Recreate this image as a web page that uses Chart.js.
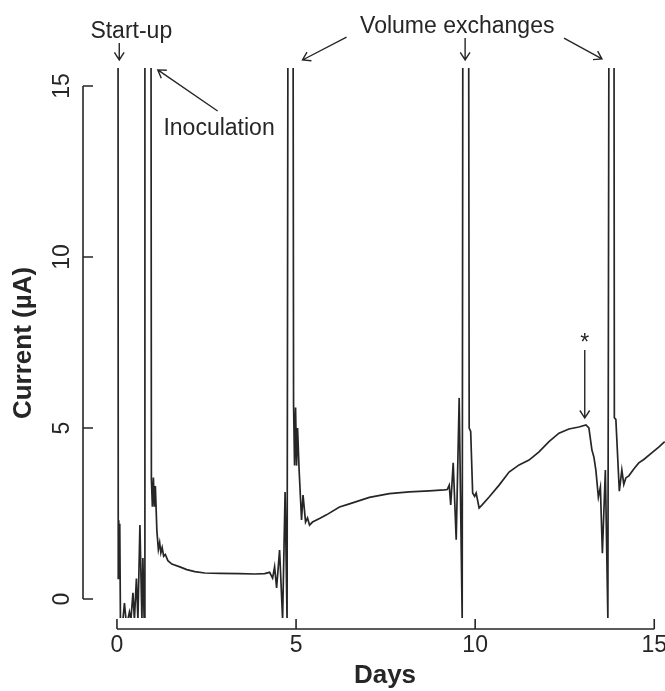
<!DOCTYPE html>
<html>
<head>
<meta charset="utf-8">
<script src="https://cdn.jsdelivr.net/npm/chart.js@4.4.0/dist/chart.umd.min.js"></script>
<style>
  html, body { margin: 0; padding: 0; background: #fff; }
  canvas { display: block; }
</style>
</head>
<body>
<canvas id="chart" width="665" height="691"></canvas>
<script>
// Current (µA) over time (days); 40 = spike that leaves the scale
const days = [
  0.022, 0.036, 0.050, 0.064, 0.078, 0.097, 0.167, 0.209, 0.251, 0.306,
  0.348, 0.390, 0.446, 0.487, 0.543, 0.585, 0.641, 0.696, 0.724, 0.758,
  0.780, 0.933, 0.961, 0.989, 1.017, 1.045, 1.072, 1.114, 1.156, 1.192,
  1.226, 1.262, 1.304, 1.351, 1.421, 1.532, 1.755, 1.950, 2.173, 2.451,
  2.869, 3.426, 3.844, 4.123, 4.262, 4.345, 4.401, 4.457, 4.540, 4.624,
  4.694, 4.749, 4.805, 4.889, 4.930, 4.958, 4.986, 5.014, 5.042, 5.084,
  5.153, 5.195, 5.265, 5.320, 5.376, 5.460, 5.655, 5.850, 6.212, 6.490,
  7.047, 7.604, 8.162, 8.719, 9.136, 9.220, 9.276, 9.318, 9.387, 9.471,
  9.554, 9.638, 9.680, 9.791, 9.833, 9.875, 9.930, 9.986, 10.028, 10.111,
  10.195, 10.390, 10.669, 10.947, 11.226, 11.504, 11.783, 12.061, 12.340, 12.618,
  12.897, 13.092, 13.175, 13.259, 13.315, 13.370, 13.440, 13.496, 13.552, 13.635,
  13.705, 13.774, 13.858, 13.886, 13.928, 14.025, 14.095, 14.150, 14.206, 14.290,
  14.429, 14.568, 14.708, 14.930, 15.125, 15.292
];
const current = [
  40, 0.6, 2.3, 0.7, 2.2, -0.6, -0.6, -0.12, -0.6, -0.6,
  -0.38, -0.6, 0.18, -0.6, 0.6, -0.6, 2.16, -0.6, 1.2, -0.6,
  40, 40, 3.5, 2.7, 3.55, 2.7, 3.3, 2.0, 1.45, 1.65,
  1.35, 1.5, 1.25, 1.3, 1.12, 1.02, 0.94, 0.86, 0.8, 0.76,
  0.75, 0.74, 0.73, 0.74, 0.78, 0.61, 0.94, 0.32, 1.43, -0.6,
  3.13, -0.6, 40, 40, 5.7, 3.9, 5.6, 3.9, 5.0, 3.8,
  2.31, 3.04, 2.25, 2.37, 2.16, 2.25, 2.35, 2.46, 2.69, 2.78,
  2.97, 3.08, 3.13, 3.16, 3.19, 3.2, 3.33, 2.75, 3.98, 1.73,
  5.88, -0.6, 40, 40, 5.0, 4.9, 3.1, 3.0, 3.1, 2.66,
  2.75, 2.98, 3.33, 3.71, 3.92, 4.06, 4.3, 4.6, 4.85, 4.97,
  5.03, 5.09, 5.0, 4.36, 4.15, 3.77, 2.98, 3.27, 1.34, 3.77,
  -0.6, 40, 40, 5.3, 5.25, 3.15, 3.77, 3.35, 3.54, 3.6,
  3.8, 3.98, 4.08, 4.27, 4.44, 4.6
];
const xTicks = [0, 5, 10, 15];
const yTicks = [0, 5, 10, 15];

// Annotations, placed in data units (day, µA)
const notes = [
  { text: 'Start-up', day: 0.40, value: 16.40 },
  { text: 'Inoculation', day: 2.85, value: 13.57 },
  { text: 'Volume exchanges', day: 9.50, value: 16.55 },
  { text: '*', day: 13.06, value: 7.28 }
];
const arrows = [
  [0.064, 16.26, 0.064, 15.76],
  [2.81, 14.27, 1.14, 15.47],
  [6.41, 16.43, 5.18, 15.76],
  [9.72, 16.40, 9.72, 15.76],
  [12.48, 16.40, 13.54, 15.79],
  [13.06, 7.28, 13.06, 5.29]
];

const ink = '#262626';
const family = '"Liberation Sans", Arial, Helvetica, sans-serif';

function drawArrow(ctx, x1, y1, x2, y2) {
  const ang = Math.atan2(y2 - y1, x2 - x1);
  const len = 9, spread = Math.PI / 5.5;
  ctx.beginPath();
  ctx.moveTo(x1, y1);
  ctx.lineTo(x2, y2);
  ctx.moveTo(x2 - len * Math.cos(ang - spread), y2 - len * Math.sin(ang - spread));
  ctx.lineTo(x2, y2);
  ctx.lineTo(x2 - len * Math.cos(ang + spread), y2 - len * Math.sin(ang + spread));
  ctx.stroke();
}

// R-style axes (offset from the plot, spanning only the tick range) plus annotations
const axesAndNotes = {
  id: 'axesAndNotes',
  afterDraw(chart) {
    const { ctx, chartArea, scales: { x, y } } = chart;
    ctx.save();
    ctx.strokeStyle = ink;
    ctx.lineWidth = 1.6;

    const ax = chartArea.left - 22;
    ctx.beginPath();
    ctx.moveTo(ax, y.getPixelForValue(yTicks[0]));
    ctx.lineTo(ax, y.getPixelForValue(yTicks[yTicks.length - 1]));
    yTicks.forEach(v => {
      const py = y.getPixelForValue(v);
      ctx.moveTo(ax, py);
      ctx.lineTo(ax + 10, py);
    });
    const ay = chartArea.bottom + 11;
    ctx.moveTo(x.getPixelForValue(xTicks[0]), ay);
    ctx.lineTo(x.getPixelForValue(xTicks[xTicks.length - 1]), ay);
    xTicks.forEach(v => {
      const px = x.getPixelForValue(v);
      ctx.moveTo(px, ay);
      ctx.lineTo(px, ay - 10);
    });
    ctx.stroke();

    ctx.font = '23px ' + family;
    ctx.fillStyle = ink;
    ctx.textAlign = 'center';
    ctx.textBaseline = 'alphabetic';
    notes.forEach(n => ctx.fillText(n.text, x.getPixelForValue(n.day), y.getPixelForValue(n.value)));

    ctx.lineWidth = 1.4;
    arrows.forEach(a => drawArrow(ctx,
      x.getPixelForValue(a[0]), y.getPixelForValue(a[1]),
      x.getPixelForValue(a[2]), y.getPixelForValue(a[3])));
    ctx.restore();
  }
};

new Chart(document.getElementById('chart'), {
  type: 'line',
  data: {
    datasets: [{
      data: days.map((d, i) => ({ x: d, y: current[i] })),
      borderColor: ink,
      borderWidth: 1.7,
      pointRadius: 0,
      tension: 0,
      clip: 0
    }]
  },
  options: {
    responsive: false,
    animation: false,
    layout: { padding: { top: 68, right: 0, bottom: 0, left: 0 } },
    plugins: { legend: { display: false }, tooltip: { enabled: false } },
    scales: {
      x: {
        type: 'linear',
        min: -0.334,
        max: 15.30,
        grid: { display: false, drawTicks: false },
        border: { display: false },
        afterBuildTicks: s => { s.ticks = xTicks.map(v => ({ value: v })); },
        afterFit: s => { s.height = 73; s.paddingLeft = 0; s.paddingRight = 0; },
        ticks: { color: ink, padding: 14, maxRotation: 0, font: { family: family, size: 23 } },
        title: { display: true, text: 'Days', color: ink, padding: { top: 0, bottom: 0 },
                 font: { family: family, size: 26, weight: 'bold' } }
      },
      y: {
        min: -0.556,
        max: 15.526,
        grid: { display: false, drawTicks: false },
        border: { display: false },
        afterBuildTicks: s => { s.ticks = yTicks.map(v => ({ value: v })); },
        afterFit: s => { s.width = 105; s.paddingTop = 0; s.paddingBottom = 0; },
        ticks: { color: ink, padding: 30, minRotation: 90, maxRotation: 90, crossAlign: 'center',
                 font: { family: family, size: 23 } },
        title: { display: true, text: 'Current (µA)', color: ink, padding: { top: 8, bottom: 0 },
                 font: { family: family, size: 26, weight: 'bold' } }
      }
    }
  },
  plugins: [axesAndNotes]
});
</script>
</body>
</html>
